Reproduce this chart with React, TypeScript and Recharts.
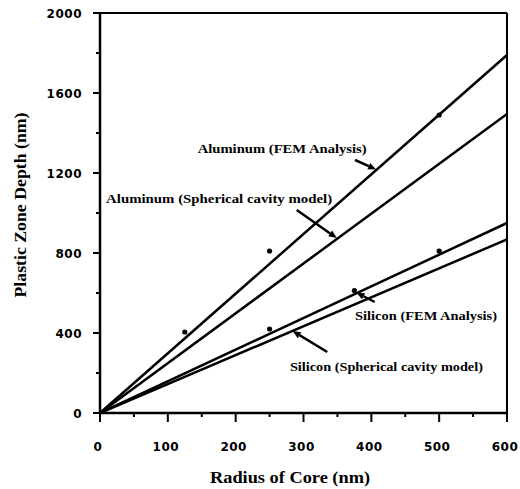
import React from "react";
import {
  ComposedChart,
  Line,
  Scatter,
  XAxis,
  YAxis,
  ReferenceLine,
  ReferenceDot,
} from "recharts";

// radius of core (nm) vs plastic zone depth (nm)
const xTicks = [0, 50, 100, 150, 200, 250, 300, 350, 400, 450, 500, 550, 600];
const yTicks = [0, 200, 400, 600, 800, 1000, 1200, 1400, 1600, 1800, 2000];

const alFem = [{ r: 0, d: 0 }, { r: 600, d: 1790 }];
const alSph = [{ r: 0, d: 0 }, { r: 600, d: 1495 }];
const siFem = [{ r: 0, d: 0 }, { r: 600, d: 950 }];
const siSph = [{ r: 0, d: 0 }, { r: 600, d: 868 }];

const alPoints = [{ r: 125, d: 405 }, { r: 250, d: 810 }, { r: 500, d: 1490 }];
const siPoints = [{ r: 250, d: 420 }, { r: 375, d: 612 }, { r: 500, d: 810 }];

// annotation labels: [text, r, d, textLength]
const labels: [string, number, number, number][] = [
  ["Aluminum (FEM Analysis)", 144, 1300, 169],
  ["Aluminum (Spherical cavity model)", 9, 1050, 226],
  ["Silicon (FEM Analysis)", 376, 465, 142],
  ["Silicon (Spherical cavity model)", 280, 210, 193],
];

// arrows: tail -> tip, data coords
const arrows = [
  [{ x: 376, y: 1265 }, { x: 407, y: 1218 }],
  [{ x: 290, y: 1015 }, { x: 349, y: 875 }],
  [{ x: 405, y: 555 }, { x: 378, y: 602 }],
  [{ x: 335, y: 305 }, { x: 284, y: 410 }],
];

const tickFont: React.CSSProperties = { fontFamily: "'DejaVu Sans', sans-serif", fontWeight: 700, fontSize: 12 };
const serif: React.CSSProperties = {
  fontFamily: "'Liberation Serif', 'DejaVu Serif', 'Times New Roman', serif",
  fontWeight: 700,
};

function XTick({ x, y, payload }: any) {
  const major = payload.value % 100 === 0;
  return (
    <g>
      <line x1={x} x2={x} y1={y} y2={y + (major ? 9 : 4)} stroke="#000" strokeWidth={2} />
      {major && (
        <text x={x - 2} y={y + 38} textAnchor="middle" fill="#000" letterSpacing={0.5} style={tickFont}>
          {payload.value}
        </text>
      )}
    </g>
  );
}

function YTick({ x, y, payload }: any) {
  const major = payload.value % 400 === 0;
  return (
    <g>
      <line x1={x - (major ? 7 : 4)} x2={x} y1={y} y2={y} stroke="#000" strokeWidth={2} />
      {major && (
        <text x={x - 18} y={y + 4.5} textAnchor="end" fill="#000" letterSpacing={0.5} style={tickFont}>
          {payload.value}
        </text>
      )}
    </g>
  );
}

function Arrow({ x1, y1, x2, y2 }: any) {
  const a = Math.atan2(y2 - y1, x2 - x1);
  const len = 8;
  const w = 3.5;
  const bx = x2 - len * Math.cos(a);
  const by = y2 - len * Math.sin(a);
  const px = -Math.sin(a) * w;
  const py = Math.cos(a) * w;
  return (
    <g>
      <line x1={x1} y1={y1} x2={bx} y2={by} stroke="#000" strokeWidth={2.5} />
      <polygon points={`${x2},${y2} ${bx + px},${by + py} ${bx - px},${by - py}`} fill="#000" />
    </g>
  );
}

export default function App() {
  return (
    <div style={{ position: "absolute", left: 0, top: 0, width: 520, height: 489, background: "#fff" }}>
      <ComposedChart width={520} height={489} margin={{ top: 13, right: 13, left: 0, bottom: 0 }}>
        <XAxis
          type="number"
          dataKey="r"
          domain={[0, 600]}
          ticks={xTicks}
          interval={0}
          height={76}
          tickSize={0}
          tickMargin={0}
          tickLine={false}
          tick={<XTick />}
          axisLine={{ stroke: "#000", strokeWidth: 2.5 }}
          allowDataOverflow
          label={{
            content: ({ viewBox }: any) => (
              <text
                x={viewBox.x + 190}
                y={viewBox.y + 70}
                textAnchor="middle"
                textLength={160}
                lengthAdjust="spacingAndGlyphs"
                fill="#000"
                style={{ ...serif, fontSize: 16 }}
              >
                Radius of Core (nm)
              </text>
            ),
          }}
        />
        <YAxis
          type="number"
          dataKey="d"
          domain={[0, 2000]}
          ticks={yTicks}
          interval={0}
          width={100}
          tickSize={0}
          tickMargin={0}
          tickLine={false}
          tick={<YTick />}
          axisLine={{ stroke: "#000", strokeWidth: 2.5 }}
          allowDataOverflow
          label={{
            content: ({ viewBox }: any) => (
              <text
                x={20}
                y={viewBox.y + 192}
                transform={`rotate(-90 20 ${viewBox.y + 192})`}
                textAnchor="middle"
                dominantBaseline="central"
                textLength={185}
                lengthAdjust="spacingAndGlyphs"
                fill="#000"
                style={{ ...serif, fontSize: 16 }}
              >
                Plastic Zone Depth (nm)
              </text>
            ),
          }}
        />
        <ReferenceLine y={2000} stroke="#000" strokeWidth={2} />
        <ReferenceLine x={600} stroke="#000" strokeWidth={2} />

        <Line data={alFem} dataKey="d" type="linear" stroke="#000" strokeWidth={2.5} dot={false} isAnimationActive={false} />
        <Line data={alSph} dataKey="d" type="linear" stroke="#000" strokeWidth={2.5} dot={false} isAnimationActive={false} />
        <Line data={siFem} dataKey="d" type="linear" stroke="#000" strokeWidth={2.5} dot={false} isAnimationActive={false} />
        <Line data={siSph} dataKey="d" type="linear" stroke="#000" strokeWidth={2.5} dot={false} isAnimationActive={false} />

        <Scatter
          data={alPoints}
          dataKey="d"
          fill="#000"
          isAnimationActive={false}
          shape={(p: any) => <circle cx={p.cx} cy={p.cy} r={2.6} fill="#000" />}
        />
        <Scatter
          data={siPoints}
          dataKey="d"
          fill="#000"
          isAnimationActive={false}
          shape={(p: any) => <circle cx={p.cx} cy={p.cy} r={2.6} fill="#000" />}
        />

        {arrows.map((seg, i) => (
          <ReferenceLine key={`a${i}`} segment={seg} shape={(p: any) => <Arrow {...p} />} />
        ))}

        {labels.map(([t, r, d, len]) => (
          <ReferenceDot
            key={t}
            x={r}
            y={d}
            r={0}
            shape={(p: any) => (
              <text
                x={p.cx}
                y={p.cy}
                textLength={len}
                lengthAdjust="spacingAndGlyphs"
                fill="#000"
                style={{ ...serif, fontSize: 13 }}
              >
                {t}
              </text>
            )}
          />
        ))}
      </ComposedChart>
    </div>
  );
}
